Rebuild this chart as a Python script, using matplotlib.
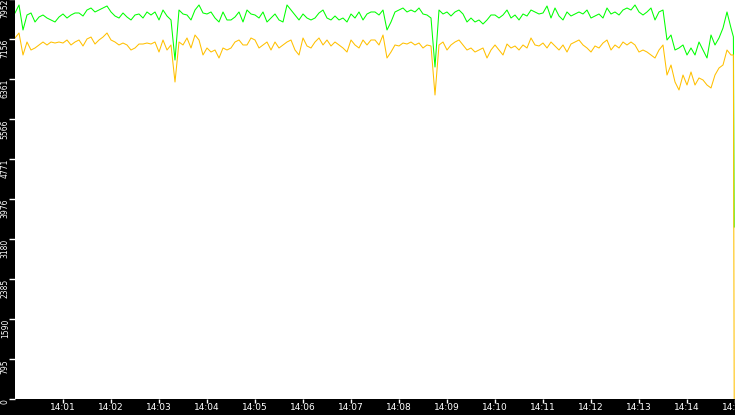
import numpy as np
import matplotlib
matplotlib.use("Agg")
import matplotlib.pyplot as plt

# samples every 5 s from 14:00:00, plus the final drop at the end
seconds = list(np.arange(0, 900, 5)) + [898, 899]

green = [
    7674, 7833, 7336, 7634, 7674, 7495, 7594, 7634, 7574, 7535, 7495, 7594, 7654, 7574, 7634,
    7674, 7674, 7614, 7733, 7773, 7694, 7733, 7773, 7813, 7694, 7614, 7574, 7674, 7594, 7535,
    7634, 7654, 7574, 7694, 7634, 7694, 7535, 7733, 7614, 7535, 6739, 7733, 7654, 7634, 7535,
    7733, 7833, 7674, 7654, 7694, 7574, 7495, 7694, 7535, 7535, 7594, 7694, 7495, 7733, 7654,
    7634, 7574, 7694, 7495, 7574, 7654, 7535, 7495, 7833, 7733, 7634, 7535, 7654, 7574, 7535,
    7574, 7674, 7733, 7574, 7535, 7614, 7535, 7574, 7495, 7654, 7574, 7694, 7535, 7654, 7694,
    7694, 7634, 7733, 7336, 7495, 7694, 7733, 7773, 7694, 7733, 7694, 7773, 7654, 7634, 7574,
    6600, 7733, 7654, 7694, 7614, 7694, 7733, 7654, 7495, 7574, 7495, 7535, 7455, 7535, 7634,
    7634, 7574, 7634, 7733, 7574, 7634, 7535, 7654, 7614, 7733, 7694, 7654, 7674, 7813, 7574,
    7773, 7614, 7535, 7694, 7614, 7654, 7694, 7654, 7733, 7574, 7614, 7654, 7574, 7773, 7654,
    7694, 7634, 7733, 7773, 7733, 7833, 7694, 7634, 7694, 7773, 7535, 7694, 7733, 7137, 7236,
    6938, 6978, 7038, 6839, 6978, 6839, 7097, 6938, 6779, 7236, 7038, 7177, 7375, 7694, 7375,
    7200, 3419,
]

orange = [
    7177, 7276, 6839, 7097, 6938, 6978, 7038, 7097, 7038, 7097, 7077, 7097, 7077, 7137, 7038,
    7097, 7137, 7018, 7157, 7196, 7057, 7137, 7196, 7276, 7137, 7097, 7038, 7077, 7038, 6938,
    6978, 7057, 7057, 7077, 7057, 7097, 6898, 7137, 6938, 7038, 6302, 7097, 7038, 7177, 6978,
    7236, 7137, 6839, 6978, 6898, 6938, 6779, 6978, 6938, 6978, 7097, 7137, 7038, 7038, 7177,
    7137, 6978, 7038, 7097, 6938, 7097, 6978, 7038, 7097, 7137, 6938, 6839, 7177, 7018, 6978,
    7097, 7177, 7038, 7137, 7018, 7097, 7038, 6978, 6898, 7137, 7038, 6978, 7137, 7038, 7137,
    7137, 7038, 7236, 6779, 6898, 7038, 7018, 7077, 7057, 7097, 7038, 7077, 6978, 7038, 7018,
    6044, 7038, 7097, 6938, 7038, 7097, 7137, 7038, 6938, 6978, 6898, 6938, 6978, 6779, 6938,
    7038, 6938, 6839, 7057, 6978, 7018, 6938, 7038, 6978, 7177, 7038, 7018, 7077, 6978, 7097,
    7018, 6938, 7038, 6898, 7057, 7097, 7137, 7038, 6978, 6898, 7018, 6978, 7077, 7137, 6938,
    7038, 6978, 7097, 7038, 7097, 7038, 6898, 6938, 6898, 6839, 6779, 6938, 7038, 6441, 6640,
    6302, 6143, 6441, 6242, 6501, 6242, 6382, 6342, 6242, 6183, 6441, 6580, 6640, 6938, 6839,
    6840, 0,
]

y_ticks = [0, 795, 1590, 2385, 3180, 3976, 4771, 5566, 6361, 7156, 7952]
x_ticks = [60, 120, 180, 240, 300, 360, 420, 480, 540, 600, 660, 720, 780, 840, 900]
x_labels = ["14:01", "14:02", "14:03", "14:04", "14:05", "14:06", "14:07", "14:08",
            "14:09", "14:10", "14:11", "14:12", "14:13", "14:14", "14:15"]

fig = plt.figure(figsize=(7.35, 4.15), dpi=100, facecolor="black")
ax = fig.add_axes([15 / 735, 16 / 415, 720 / 735, 400 / 415])
ax.set_facecolor("white")

ax.plot(seconds, green, color="#00ff00", lw=0.75)
ax.plot(seconds, orange, color="#ffc000", lw=0.75)

ax.set_xlim(0, 900)
ax.set_ylim(0, 7952)

for s in ax.spines.values():
    s.set_visible(False)

ax.set_xticks(x_ticks)
ax.set_xticklabels(x_labels)
ax.set_yticks(y_ticks)
ax.set_yticklabels([str(v) for v in y_ticks])

ax.tick_params(axis="x", colors="white", length=3, width=1, labelsize=6.5, pad=0)
ax.tick_params(axis="y", colors="white", length=4, width=1, labelsize=5.5, pad=3)
for lab in ax.get_yticklabels():
    lab.set_rotation(90)
    lab.set_va("top")
    lab.set_ha("center")

fig.savefig("out.png", dpi=100, facecolor="black")
